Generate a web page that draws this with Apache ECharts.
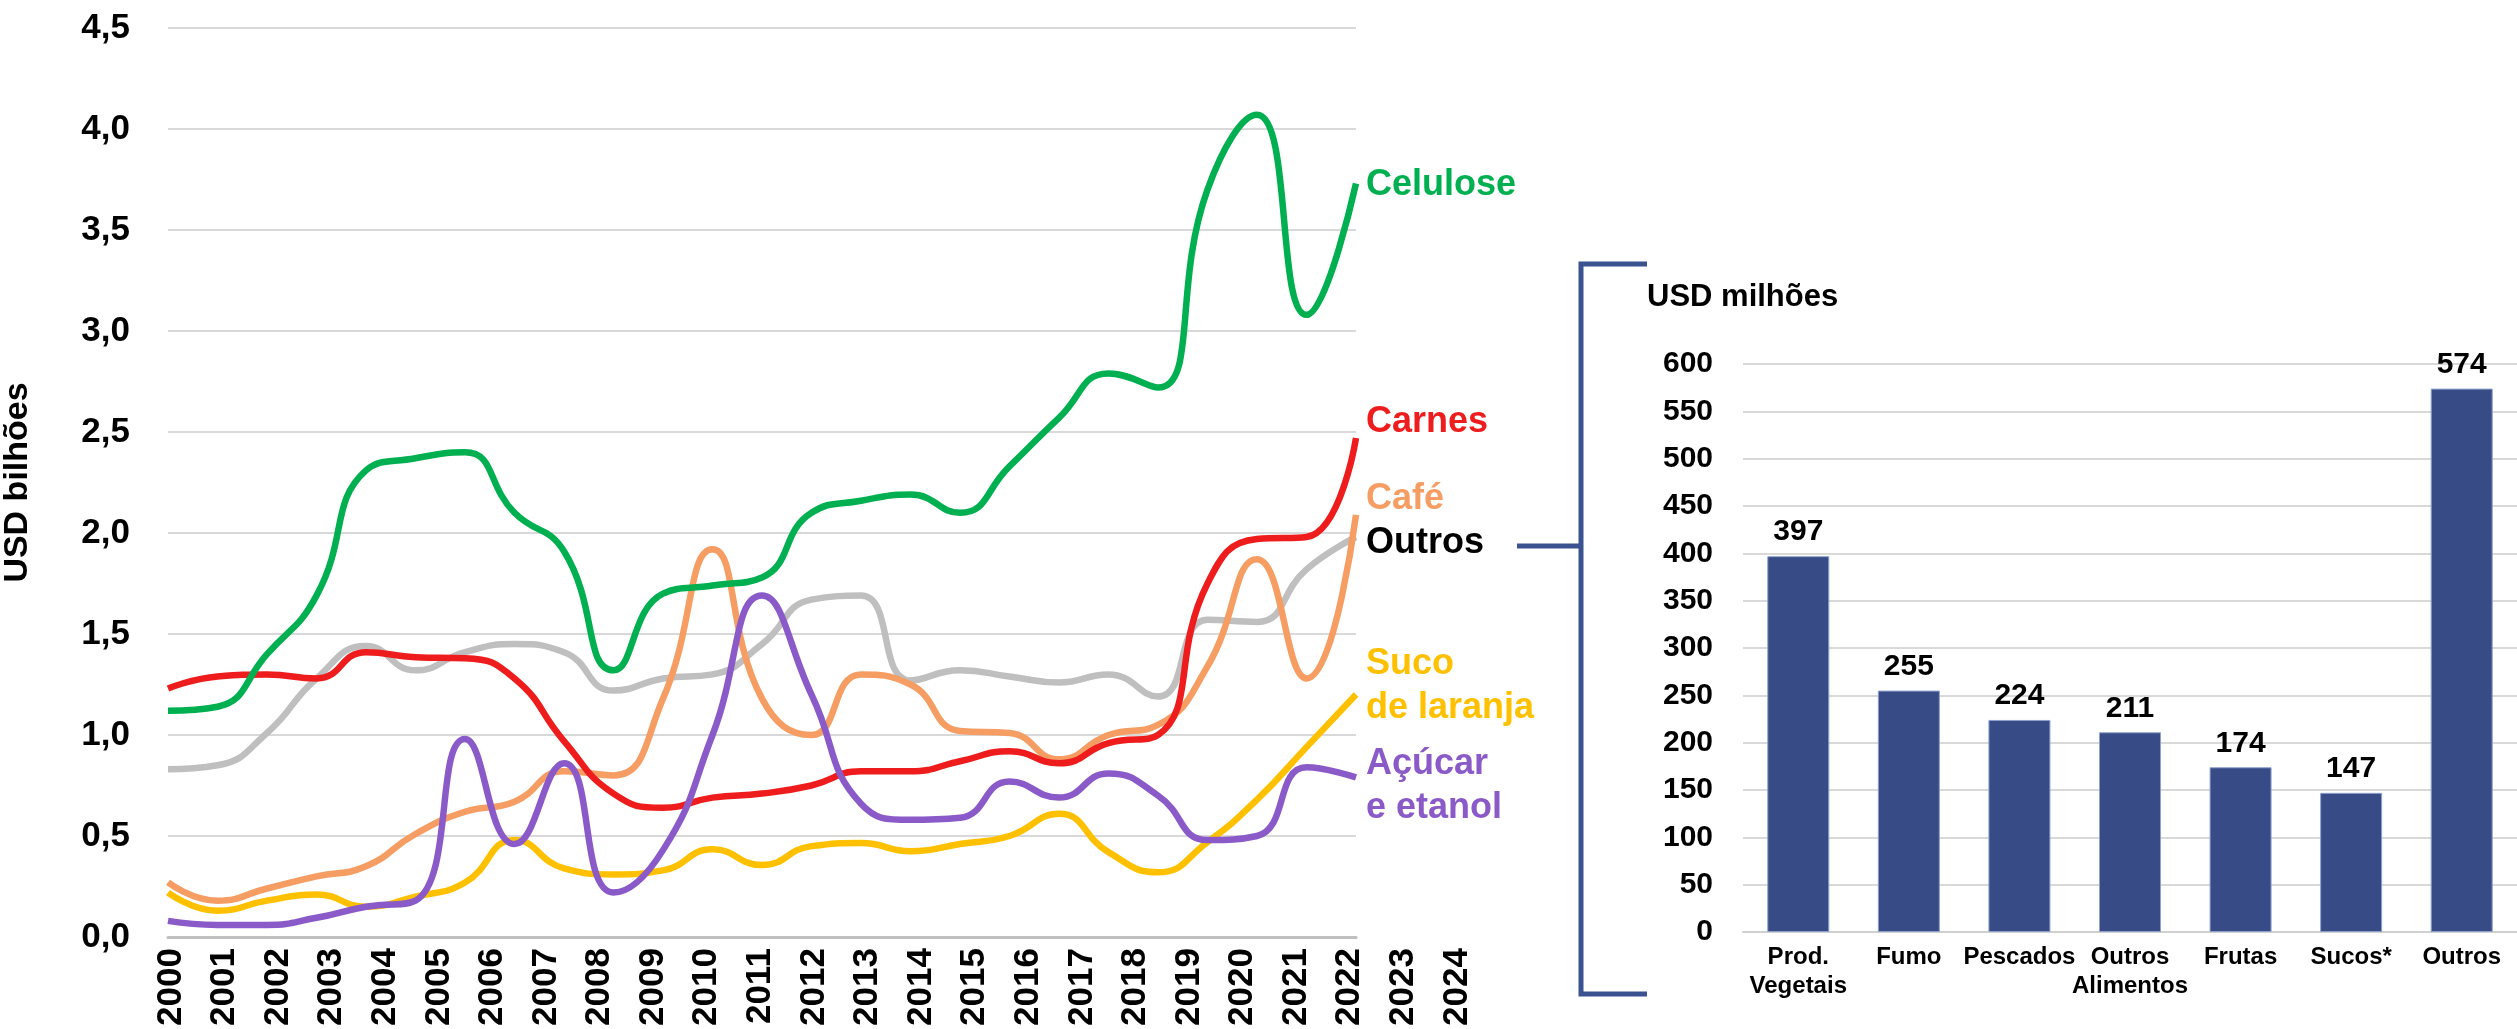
<!DOCTYPE html>
<html>
<head>
<meta charset="utf-8">
<title>Exportações</title>
<script src="https://cdn.jsdelivr.net/npm/echarts@6/dist/echarts.min.js"></script>
<style>
  html, body { margin: 0; padding: 0; background: #fff; }
  #chart { width: 2517px; height: 1029px; }
</style>
</head>
<body>
<div id="chart"></div>
<script>
// anos (eixo x) - a série vai de 2000 a 2024
const years = ['2000', '2001', '2002', '2003', '2004', '2005', '2006', '2007', '2008', '2009', '2010', '2011', '2012',
  '2013', '2014', '2015', '2016', '2017', '2018', '2019', '2020', '2021', '2022', '2023', '2024'];

// USD bilhões
const celulose = [1.12, 1.14, 1.40, 1.69, 2.31, 2.37, 2.40, 2.10, 1.91, 1.32, 1.70, 1.74, 1.78, 2.10, 2.16, 2.19, 2.10, 2.33, 2.57, 2.79, 2.72, 3.70, 4.07, 3.08, 3.73];
const carnes = [1.23, 1.29, 1.30, 1.28, 1.41, 1.385, 1.38, 1.28, 0.97, 0.71, 0.64, 0.69, 0.71, 0.75, 0.82, 0.82, 0.87, 0.92, 0.86, 0.96, 1.00, 1.75, 1.97, 1.98, 2.47];
const cafe = [0.27, 0.18, 0.24, 0.30, 0.35, 0.51, 0.62, 0.67, 0.82, 0.80, 1.18, 1.92, 1.18, 1.00, 1.30, 1.25, 1.02, 1.01, 0.88, 1.00, 1.05, 1.34, 1.87, 1.28, 2.09];
const outros = [0.83, 0.85, 1.01, 1.28, 1.44, 1.32, 1.41, 1.45, 1.41, 1.22, 1.28, 1.30, 1.45, 1.67, 1.69, 1.27, 1.32, 1.29, 1.26, 1.30, 1.19, 1.57, 1.56, 1.82, 1.98];
const suco = [0.22, 0.13, 0.18, 0.21, 0.15, 0.20, 0.27, 0.48, 0.34, 0.31, 0.33, 0.434, 0.356, 0.45, 0.465, 0.425, 0.46, 0.50, 0.61, 0.42, 0.32, 0.47, 0.68, 0.94, 1.20];
const acucar = [0.08, 0.06, 0.06, 0.095, 0.15, 0.18, 0.98, 0.46, 0.86, 0.22, 0.43, 1.00, 1.69, 1.20, 0.66, 0.58, 0.59, 0.77, 0.69, 0.81, 0.70, 0.48, 0.50, 0.84, 0.79];

// detalhamento de "Outros" (USD milhões)
const barCategories = ['Prod.\nVegetais', 'Fumo', 'Pescados', 'Outros\nAlimentos', 'Frutas', 'Sucos*', 'Outros'];
const barValues = [397, 255, 224, 211, 174, 147, 574];

const FONT = '"Liberation Sans", Arial, sans-serif';
const NAVY = '#374b87';

function lineSeries(name, data, color, labelText, labelColor, dy) {
  return {
    name: name,
    type: 'line',
    xAxisIndex: 0,
    yAxisIndex: 0,
    data: data,
    smooth: 0.5,
    showSymbol: false,
    lineStyle: { color: color, width: 6.5 },
    itemStyle: { color: color },
    endLabel: {
      show: true,
      formatter: labelText,
      color: labelColor,
      fontFamily: FONT,
      fontWeight: 'bold',
      fontSize: 36,
      lineHeight: 44,
      distance: 10,
      offset: [0, dy]
    }
  };
}

const chart = echarts.init(document.getElementById('chart'));
chart.setOption({
  animation: false,
  backgroundColor: '#ffffff',
  textStyle: { fontFamily: FONT },
  title: {
    text: 'USD milhões',
    left: 1647,
    top: 282,
    padding: 0,
    textStyle: { fontFamily: FONT, fontWeight: 'bold', fontSize: 31, color: '#000' }
  },
  grid: [
    { left: 163, right: 1161, top: 28, bottom: 92 },
    { left: 171, right: 1060, top: 28, bottom: 92 },
    { left: 1743, right: -6, top: 364, bottom: 97 }
  ],
  xAxis: [
    {
      gridIndex: 0,
      type: 'category',
      data: years,
      boundaryGap: false,
      axisLine: { show: true, lineStyle: { color: '#bfbfbf', width: 3 } },
      axisTick: { show: false },
      axisLabel: { show: false },
      splitLine: { show: false }
    },
    {
      gridIndex: 1,
      type: 'category',
      data: years,
      boundaryGap: false,
      axisLine: { show: false },
      axisTick: { show: false },
      axisLabel: {
        rotate: 90,
        interval: 0,
        margin: 12,
        color: '#000',
        fontFamily: FONT,
        fontWeight: 'bold',
        fontSize: 35
      },
      splitLine: { show: false }
    },
    {
      gridIndex: 2,
      type: 'category',
      data: barCategories,
      axisLine: { show: true, lineStyle: { color: '#d0d0d0', width: 2 } },
      axisTick: { show: false },
      axisLabel: {
        interval: 0,
        margin: 11,
        color: '#000',
        fontFamily: FONT,
        fontWeight: 'bold',
        fontSize: 24,
        lineHeight: 29
      }
    }
  ],
  yAxis: [
    {
      gridIndex: 0,
      type: 'value',
      min: 0,
      max: 4.5,
      interval: 0.5,
      name: 'USD bilhões',
      nameLocation: 'middle',
      nameRotate: 90,
      nameGap: 133,
      nameTextStyle: { fontFamily: FONT, fontWeight: 'bold', fontSize: 34, color: '#000' },
      axisLine: { show: false },
      axisTick: { show: false },
      axisLabel: {
        margin: 38,
        color: '#000',
        fontFamily: FONT,
        fontWeight: 'bold',
        fontSize: 35,
        formatter: v => v.toFixed(1).replace('.', ',')
      },
      splitLine: { lineStyle: { color: '#d9d9d9', width: 2 } }
    },
    {
      gridIndex: 1,
      type: 'value',
      show: false,
      min: 0,
      max: 1
    },
    {
      gridIndex: 2,
      type: 'value',
      min: 0,
      max: 600,
      interval: 50,
      axisLine: { show: false },
      axisTick: { show: false },
      axisLabel: {
        margin: 30,
        color: '#000',
        fontFamily: FONT,
        fontWeight: 'bold',
        fontSize: 30
      },
      splitLine: { lineStyle: { color: '#d9d9d9', width: 2 } }
    }
  ],
  series: [
    lineSeries('Outros', outros, '#bfbfbf', 'Outros', '#000000', 6),
    lineSeries('Suco de laranja', suco, '#ffc000', 'Suco\nde laranja', '#ffc000', -9),
    lineSeries('Café', cafe, '#f59d62', 'Café', '#f59d62', -16),
    lineSeries('Carnes', carnes, '#ee1c1c', 'Carnes', '#ee1c1c', -16),
    lineSeries('Celulose', celulose, '#00b050', 'Celulose', '#00b050', 2),
    lineSeries('Açúcar e etanol', acucar, '#8a5ac8', 'Açúcar\ne etanol', '#8a5ac8', 9),
    {
      name: 'Outros (USD milhões)',
      type: 'bar',
      xAxisIndex: 2,
      yAxisIndex: 2,
      data: barValues,
      barWidth: 62,
      itemStyle: { color: NAVY, borderColor: '#8fa0cc', borderWidth: 1 },
      label: {
        show: true,
        position: 'top',
        distance: 9,
        color: '#000',
        fontFamily: FONT,
        fontWeight: 'bold',
        fontSize: 30
      }
    }
  ],
  graphic: [
    // colchete ligando "Outros" ao detalhamento
    {
      type: 'polyline',
      shape: { points: [[1647, 264], [1581, 264], [1581, 994], [1647, 994]] },
      style: { stroke: '#3b5290', lineWidth: 5, fill: null }
    },
    {
      type: 'line',
      shape: { x1: 1517, y1: 546, x2: 1581, y2: 546 },
      style: { stroke: '#3b5290', lineWidth: 5 }
    }
  ]
});
</script>
</body>
</html>
